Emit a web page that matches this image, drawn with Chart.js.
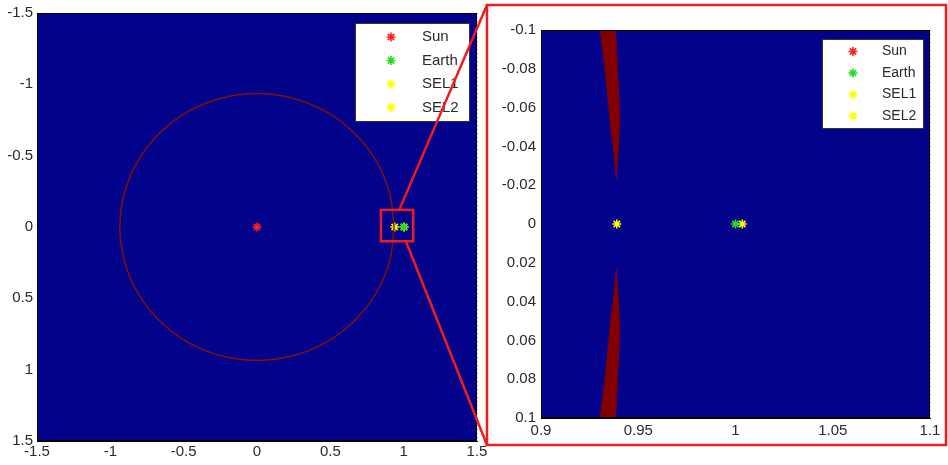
<!DOCTYPE html>
<html>
<head>
<meta charset="utf-8">
<script src="https://cdn.jsdelivr.net/npm/chart.js@4.4.1/dist/chart.umd.min.js"></script>
<style>
  html, body { margin: 0; padding: 0; background: #fff; }
  #wrap { position: relative; width: 948px; height: 465px; }
  #wrap canvas { position: absolute; left: 0; top: 0; }
</style>
</head>
<body>
<div id="wrap">
  <canvas id="orbit" width="948" height="465"></canvas>
  <canvas id="zoom" width="948" height="465"></canvas>
</div>
<script>
// bodies
const bodies = ['Sun', 'Earth', 'SEL1', 'SEL2'];
const bodyX = [0, 1, 0.939, 1.0035];
const bodyY = [0, 0, 0, 0];
const bodyColors = ['#ff2020', '#20e020', '#ffff00', '#ffff00'];

// orbit circle
const orbitX = [0.935, 0.903, 0.81, 0.661, 0.4675, 0.242, 0, -0.242, -0.4675, -0.661, -0.81, -0.903, -0.935,
  -0.903, -0.81, -0.661, -0.4675, -0.242, 0, 0.242, 0.4675, 0.661, 0.81, 0.903, 0.935];
const orbitY = [0, 0.242, 0.4675, 0.661, 0.81, 0.903, 0.935, 0.903, 0.81, 0.661, 0.4675, 0.242, 0,
  -0.242, -0.4675, -0.661, -0.81, -0.903, -0.935, -0.903, -0.81, -0.661, -0.4675, -0.242, 0];

// dark red band in the zoomed panel
const bandTopX = [0.9305, 0.9328, 0.9345, 0.9362, 0.9379, 0.9388, 0.9395, 0.9401, 0.9405, 0.9401, 0.9393, 0.9383, 0.9305];
const bandTopY = [-0.1, -0.081, -0.064, -0.047, -0.033, -0.0235, -0.035, -0.047, -0.055, -0.064, -0.081, -0.1, -0.1];
const bandBottomX = [0.9305, 0.9328, 0.9345, 0.9362, 0.9379, 0.9388, 0.9395, 0.9401, 0.9405, 0.9401, 0.9393, 0.9383, 0.9305];
const bandBottomY = [0.1, 0.081, 0.064, 0.047, 0.033, 0.0235, 0.035, 0.047, 0.055, 0.064, 0.081, 0.1, 0.1];

// ticks
const wideTicks = [-1.5, -1, -0.5, 0, 0.5, 1, 1.5];
const wideTickLabels = ['-1.5', '-1', '-0.5', '0', '0.5', '1', '1.5'];
const zoomXTicks = [0.9, 0.95, 1, 1.05, 1.1];
const zoomXLabels = ['0.9', '0.95', '1', '1.05', '1.1'];
const zoomYTicks = [-0.1, -0.08, -0.06, -0.04, -0.02, 0, 0.02, 0.04, 0.06, 0.08, 0.1];
const zoomYLabels = ['-0.1', '-0.08', '-0.06', '-0.04', '-0.02', '0', '0.02', '0.04', '0.06', '0.08', '0.1'];

// zoom rectangle drawn on the left panel (data units)
const zoomBoxX = [0.845, 1.065];
const zoomBoxY = [-0.12, 0.1];

const NAVY = '#02028a';
const DARK_RED = '#800000';
const RED = '#ee1c1c';
const FONT = '"Liberation Sans", Arial, sans-serif';
const FRAME = { left: 487, top: 5, right: 946, bottom: 445 };

const pts = (xs, ys) => xs.map((x, i) => ({ x, y: ys[i] }));

const bodyDatasets = () => bodies.map((name, i) => ({
  label: name,
  data: [{ x: bodyX[i], y: bodyY[i] }],
  pointStyle: 'star',
  pointRadius: 4.5,
  borderColor: bodyColors[i],
  backgroundColor: bodyColors[i],
  borderWidth: 1.6,
}));

const axis = (min, max, ticks, labels, opts) => ({
  type: 'linear',
  min, max,
  reverse: !!opts.reverse,
  afterBuildTicks: (s) => { s.ticks = ticks.map(v => ({ value: v })); },
  afterFit: opts.fit,
  ticks: {
    autoSkip: false,
    maxRotation: 0,
    padding: opts.pad,
    color: '#2a2a2a',
    font: { family: FONT, size: 15 },
    callback: (v, i) => labels[i],
  },
  grid: { color: 'rgba(0,0,0,0.35)', drawTicks: false },
  border: { display: true, color: '#000', dash: [1, 3] },
});

const plotBackground = {
  id: 'plotBackground',
  beforeDraw(chart) {
    const { ctx, chartArea: a } = chart;
    ctx.save();
    ctx.fillStyle = NAVY;
    ctx.fillRect(a.left, a.top, a.right - a.left, a.bottom - a.top);
    ctx.restore();
  },
  afterDatasetsDraw(chart, args, opts) {
    const { ctx, chartArea: a } = chart;
    ctx.save();
    ctx.strokeStyle = '#000';
    ctx.lineWidth = 1;
    ctx.strokeRect(a.left + 0.5, a.top + 0.5, a.right - a.left - 1, a.bottom - a.top - 1);

    // legend box, MATLAB style, inside the axes
    const x0 = a.right - opts.marginX - opts.width;
    const y0 = a.top + opts.marginY;
    ctx.fillStyle = '#fff';
    ctx.fillRect(x0, y0, opts.width, opts.height);
    ctx.strokeStyle = '#333';
    ctx.strokeRect(x0 + 0.5, y0 + 0.5, opts.width, opts.height);
    ctx.font = opts.fontSize + 'px ' + FONT;
    ctx.textBaseline = 'middle';
    chart.data.datasets.filter(d => bodies.includes(d.label)).forEach((d, i) => {
      const y = y0 + opts.firstRow + i * opts.rowGap;
      ctx.strokeStyle = d.borderColor;
      ctx.lineWidth = 1.6;
      Chart.helpers.drawPoint(ctx, { pointStyle: 'star', radius: 4.5, borderWidth: 1.6 }, x0 + opts.markerX, y);
      ctx.fillStyle = '#2a2a2a';
      ctx.fillText(d.label, x0 + opts.textX, y);
    });
    ctx.restore();
  },
};

const zoomCallout = {
  id: 'zoomCallout',
  afterDraw(chart) {
    const { ctx, scales: { x, y } } = chart;
    const l = x.getPixelForValue(zoomBoxX[0]);
    const r = x.getPixelForValue(zoomBoxX[1]);
    const t = y.getPixelForValue(zoomBoxY[0]);
    const b = y.getPixelForValue(zoomBoxY[1]);
    ctx.save();
    ctx.fillStyle = '#fff';
    ctx.fillRect(FRAME.left, FRAME.top, FRAME.right - FRAME.left, FRAME.bottom - FRAME.top);
    ctx.strokeStyle = RED;
    ctx.lineWidth = 2.5;
    ctx.strokeRect(FRAME.left, FRAME.top, FRAME.right - FRAME.left, FRAME.bottom - FRAME.top);
    ctx.strokeRect(l, t, r - l, b - t);
    ctx.beginPath();
    ctx.moveTo(x.getPixelForValue(0.97), t);
    ctx.lineTo(FRAME.left, FRAME.top);
    ctx.moveTo(x.getPixelForValue(1.015), b);
    ctx.lineTo(FRAME.left, FRAME.bottom);
    ctx.stroke();
    ctx.restore();
  },
};

new Chart(document.getElementById('orbit'), {
  type: 'scatter',
  data: {
    datasets: [
      {
        label: 'orbit',
        data: pts(orbitX, orbitY),
        showLine: true,
        tension: 0.4,
        borderColor: '#8a0c0c',
        borderWidth: 1.5,
        pointRadius: 0,
      },
      ...bodyDatasets(),
    ],
  },
  options: {
    responsive: false,
    animation: false,
    events: [],
    layout: { padding: { left: 0, top: 11, right: 471, bottom: 0 } },
    scales: {
      x: axis(-1.5, 1.5, wideTicks, wideTickLabels, { pad: 2, fit: (s) => { s.height = 24; } }),
      y: axis(-1.5, 1.5, wideTicks, wideTickLabels, { pad: 4, reverse: true, fit: (s) => { s.width = 37; } }),
    },
    plugins: {
      legend: { display: false },
      tooltip: { enabled: false },
      plotBackground: { width: 114, height: 98, marginX: 8, marginY: 10, firstRow: 14, rowGap: 23.5, markerX: 36, textX: 67, fontSize: 15 },
    },
  },
  plugins: [plotBackground, zoomCallout],
});

new Chart(document.getElementById('zoom'), {
  type: 'scatter',
  data: {
    datasets: [
      {
        label: 'band top',
        data: pts(bandTopX, bandTopY),
        showLine: true,
        fill: 'shape',
        backgroundColor: DARK_RED,
        borderColor: DARK_RED,
        borderWidth: 1,
        pointRadius: 0,
      },
      {
        label: 'band bottom',
        data: pts(bandBottomX, bandBottomY),
        showLine: true,
        fill: 'shape',
        backgroundColor: DARK_RED,
        borderColor: DARK_RED,
        borderWidth: 1,
        pointRadius: 0,
      },
      ...bodyDatasets(),
    ],
  },
  options: {
    responsive: false,
    animation: false,
    events: [],
    layout: { padding: { left: 491, top: 30, right: 18, bottom: 27 } },
    scales: {
      x: axis(0.9, 1.1, zoomXTicks, zoomXLabels, { pad: 4, fit: (s) => { s.height = 20; } }),
      y: axis(-0.1, 0.1, zoomYTicks, zoomYLabels, { pad: 5, reverse: true, fit: (s) => { s.width = 50; } }),
    },
    plugins: {
      legend: { display: false },
      tooltip: { enabled: false },
      plotBackground: { width: 101, height: 89, marginX: 7, marginY: 9, firstRow: 12.5, rowGap: 21.5, markerX: 31, textX: 60, fontSize: 14 },
    },
  },
  plugins: [plotBackground],
});
</script>
</body>
</html>
